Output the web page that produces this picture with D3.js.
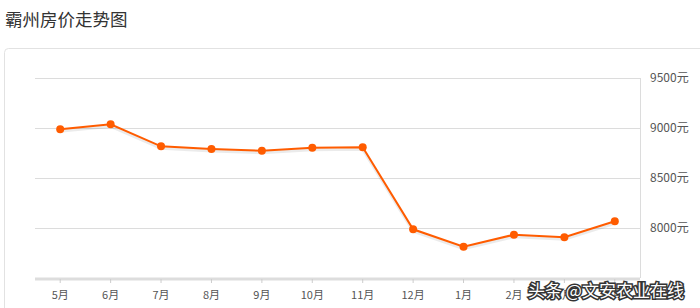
<!DOCTYPE html>
<html>
<head>
<meta charset="utf-8">
<script src="https://cdnjs.cloudflare.com/ajax/libs/d3/7.8.5/d3.min.js"></script>
<style>
  body { margin: 0; background: #fff; font-family: "Noto Sans CJK SC", "Microsoft YaHei", sans-serif; }
</style>
</head>
<body>
<script>
var width = 700, height = 308;

// data
var months = ["5月", "6月", "7月", "8月", "9月", "10月", "11月", "12月", "1月", "2月", "3月", "4月"];
var prices = [8987, 9037, 8817, 8790, 8773, 8803, 8807, 7987, 7813, 7933, 7907, 8067];
var yTicks = [8000, 8500, 9000, 9500];

var svg = d3.select("body").append("svg")
	.attr("width", width)
	.attr("height", height);

// title
svg.append("text")
	.attr("x", 5)
	.attr("y", 26)
	.attr("font-size", 17.5)
	.attr("fill", "#333")
	.text("霸州房价走势图");

// panel frame
svg.append("rect")
	.attr("x", 4.5)
	.attr("y", 48.5)
	.attr("width", 720)
	.attr("height", 300)
	.attr("rx", 4)
	.attr("fill", "#fff")
	.attr("stroke", "#e2e2e2");

var plotLeft = 35, plotRight = 640, plotTop = 78, plotBottom = 278;

var x = d3.scaleBand()
	.domain(months)
	.range([plotLeft, plotRight]);

var y = d3.scaleLinear()
	.domain([7500, 9500])
	.range([plotBottom, plotTop]);

// grid lines
svg.append("g").selectAll("line")
	.data(yTicks)
	.enter().append("line")
	.attr("x1", plotLeft)
	.attr("x2", plotRight)
	.attr("y1", function(d) { return Math.round(y(d)) + 0.5; })
	.attr("y2", function(d) { return Math.round(y(d)) + 0.5; })
	.attr("stroke", "#dcdcdc");

// right border of plot
svg.append("line")
	.attr("x1", plotRight + 0.5).attr("x2", plotRight + 0.5)
	.attr("y1", plotTop).attr("y2", plotBottom)
	.attr("stroke", "#dcdcdc");

// right axis labels
svg.append("g").selectAll("text")
	.data(yTicks)
	.enter().append("text")
	.attr("x", 650)
	.attr("y", function(d) { return y(d) + 4; })
	.attr("font-size", 12)
	.attr("fill", "#555")
	.text(function(d) { return d + "元"; });

// bottom axis
var xAxis = d3.axisBottom(x).tickSize(4).tickPadding(8);
var gx = svg.append("g")
	.attr("transform", "translate(0," + (plotBottom + 1) + ")")
	.call(xAxis);
gx.select(".domain").attr("stroke", "#ddd").attr("stroke-width", 3)
	.attr("d", "M" + plotLeft + ",0H" + plotRight);
gx.selectAll(".tick line").attr("stroke", "#ccc");
gx.selectAll(".tick text")
	.attr("font-size", 11)
	.attr("fill", "#555")
	.attr("font-family", "Noto Sans CJK SC, sans-serif");

var cx = function(d, i) { return x(months[i]) + x.bandwidth() / 2; };

var line = d3.line()
	.x(cx)
	.y(function(d) { return y(d); });

// soft shadow under the line
svg.append("path")
	.datum(prices)
	.attr("d", line)
	.attr("transform", "translate(0,2)")
	.attr("fill", "none")
	.attr("stroke", "rgba(0,0,0,0.08)")
	.attr("stroke-width", 3);

svg.append("path")
	.datum(prices)
	.attr("d", line)
	.attr("fill", "none")
	.attr("stroke", "#ff5c00")
	.attr("stroke-width", 2);

svg.append("g").selectAll("circle")
	.data(prices)
	.enter().append("circle")
	.attr("cx", cx)
	.attr("cy", function(d) { return y(d); })
	.attr("r", 4)
	.attr("fill", "#ff5c00");

// watermark
svg.append("text")
	.attr("x", 528)
	.attr("y", 297)
	.attr("font-size", 17)
	.attr("fill", "#fff")
	.attr("stroke", "#333")
	.attr("stroke-width", 3)
	.attr("paint-order", "stroke")
	.text("头条 @文安农业在线");
</script>
</body>
</html>
